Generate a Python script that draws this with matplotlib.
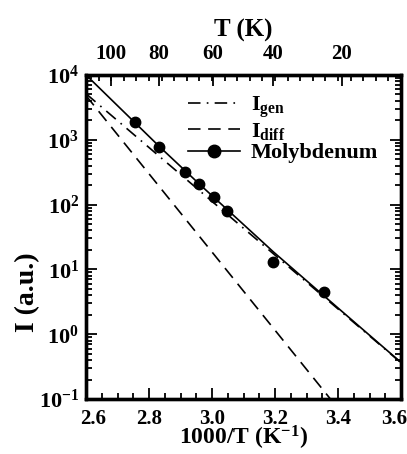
import numpy as np
import matplotlib
matplotlib.use('Agg')
import matplotlib.pyplot as plt
import matplotlib.transforms as mtransforms
from matplotlib.lines import Line2D
from matplotlib.ticker import (LogLocator, LogFormatterMathtext, MultipleLocator,
                               FixedLocator, FormatStrFormatter, NullFormatter)

plt.rcParams.update({
    'font.family': ['Liberation Serif', 'DejaVu Serif'],
    'font.weight': 'bold',
    'axes.labelweight': 'bold',
    'mathtext.fontset': 'custom',
    'mathtext.rm': 'Liberation Serif:bold',
    'mathtext.it': 'Liberation Serif:bold',
    'mathtext.bf': 'Liberation Serif:bold',
    'mathtext.default': 'rm',
    'lines.scale_dashes': False,
})

# measured dark current, Molybdenum contact
inv_T = [2.755, 2.833, 2.915, 2.959, 3.006, 3.049, 3.195, 3.357]
current = [1870, 773, 319, 210, 131, 81, 13.1, 4.48]

# total fitted current (generation + diffusion)
fit_inv_T = [2.60, 2.755, 2.833, 2.959, 3.195, 3.357, 3.60]
fit_current = [1.0e4, 1841, 785, 209, 18.6, 3.85, 0.367]

# generation component
gen_inv_T = [2.60, 3.60]
gen_current = [5130, 0.363]

# diffusion component
diff_inv_T = [2.60, 3.376]
diff_current = [4800, 0.1]

# temperature labels on the top axis
top_T = [100, 80, 60, 40, 20]

fig = plt.figure(figsize=(4.07, 4.54), dpi=100)
ax = fig.add_axes([0.2113, 0.121, 0.774, 0.714])

lw = 1.2
l_gen, = ax.plot(gen_inv_T, gen_current, color='k', lw=lw,
                 dashes=(9, 4.5, 1.2, 4.5))
l_diff, = ax.plot(diff_inv_T, diff_current, color='k', lw=lw, dashes=(9, 5.5))
ax.plot(fit_inv_T, fit_current, color='k', lw=lw)
ax.plot(inv_T, current, 'o', color='k', ms=7.5, ls='none')

ax.set_yscale('log')
ax.set_xlim(2.6, 3.6)
ax.set_ylim(0.1, 1e4)

ax.xaxis.set_major_locator(MultipleLocator(0.2))
ax.xaxis.set_minor_locator(MultipleLocator(0.05))
ax.xaxis.set_major_formatter(FormatStrFormatter('%.1f'))
ax.yaxis.set_major_locator(LogLocator(base=10, numticks=10))
ax.yaxis.set_minor_locator(LogLocator(base=10, subs=np.arange(2, 10), numticks=10))
ax.yaxis.set_major_formatter(LogFormatterMathtext())
ax.yaxis.set_minor_formatter(NullFormatter())

ax.tick_params(which='both', direction='in', right=True, top=False, width=1.3)
ax.tick_params(which='major', length=8)
ax.tick_params(which='minor', length=4.5)
ax.tick_params(axis='x', pad=7, labelsize=15)
ax.tick_params(axis='y', pad=5, labelsize=16)
for sp in ax.spines.values():
    sp.set_linewidth(2.4)

ax.set_xlabel(r'1000/T (K$^{-1}$)', fontsize=17)
ax.xaxis.set_label_coords(0.5, -0.076)
ax.set_ylabel('I (a.u.)', fontsize=20)
ax.yaxis.set_label_coords(-0.146, 0.33)

# top axis in temperature
ax_top = ax.twiny()
ax_top.set_xlim(ax.get_xlim())
ax_top.xaxis.set_major_locator(FixedLocator([1000.0 / (t + 273.15) for t in top_T]))
ax_top.set_xticklabels([str(t) for t in top_T])
ax_top.xaxis.set_minor_locator(FixedLocator(np.arange(2.64, 3.6, 0.04)))
ax_top.tick_params(which='both', direction='in', width=1.3, labelsize=15, pad=8)
ax_top.tick_params(which='major', length=8)
ax_top.tick_params(which='minor', length=4.5)
ax_top.set_xlabel('T (K)', fontsize=18, labelpad=5)
for sp in ax_top.spines.values():
    sp.set_linewidth(2.4)

handles = [l_gen, l_diff,
           Line2D([], [], color='k', lw=lw, marker='o', ms=9)]
labels = [r'I$_{\mathrm{gen}}$', r'I$_{\mathrm{diff}}$', 'Molybdenum']
ax.legend(handles, labels, loc='upper left', bbox_to_anchor=(0.29, 0.975),
          frameon=False, fontsize=16, handlelength=2.3, handletextpad=0.5,
          labelspacing=0.05, borderpad=0)

# pull the end labels of the bottom axis inside the frame
fig.canvas.draw()
shifts = {'2.6': 7, '3.6': -7}
for lab in ax.get_xticklabels():
    dx = shifts.get(lab.get_text())
    if dx:
        lab.set_transform(lab.get_transform() +
                          mtransforms.ScaledTranslation(dx / 100, 0, fig.dpi_scale_trans))

fig.savefig('out.png', dpi=100)
